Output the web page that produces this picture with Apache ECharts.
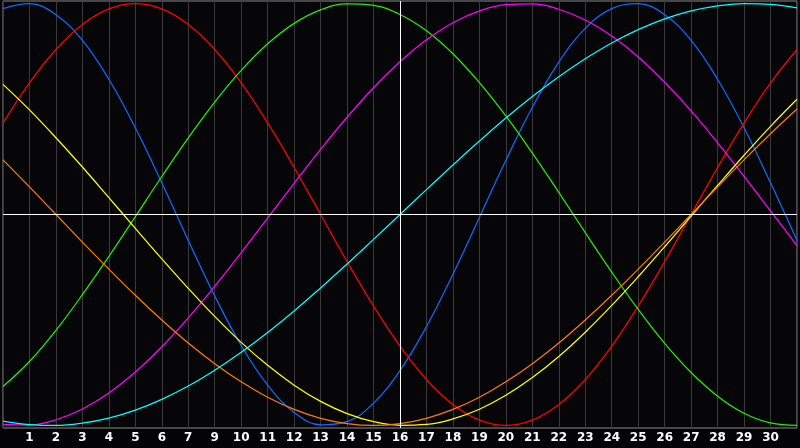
<!DOCTYPE html>
<html>
<head>
<meta charset="UTF-8">
<title></title>
<script src="https://cdn.jsdelivr.net/npm/echarts@6/dist/echarts.min.js"></script>
<style>
  html, body { margin: 0; padding: 0; background: #040406; }
</style>
</head>
<body>
<div id="chart" style="width:800px;height:448px;"></div>
<script type="text/javascript">
// day positions 0..30, labels shown at positions 1..29
var days = [];
for (var i = 0; i <= 30; i++) days.push(i);
var dayLabels = ['1','2','3','4','5','6','7','9','10','11','12','13','14','15','16',
                 '17','18','19','20','21','22','23','24','25','26','27','28','29','30'];

var blue = [0.976,0.999,0.947,0.825,0.641,0.411,0.150,-0.123,-0.386,-0.621,-0.809,-0.938,-0.997,-0.982,-0.894,-0.740,
            -0.531,-0.283,-0.014,0.257,0.508,0.722,0.882,0.976,0.999,0.947,0.825,0.641,0.411,0.150,-0.123];
var red = [0.434,0.624,0.782,0.901,0.975,1.000,0.975,0.901,0.782,0.624,0.434,0.223,0.000,-0.223,-0.434,-0.624,
           -0.782,-0.901,-0.975,-1.000,-0.975,-0.901,-0.782,-0.624,-0.434,-0.223,0.000,0.223,0.434,0.624,0.782];
var green = [-0.815,-0.697,-0.549,-0.380,-0.199,-0.010,0.180,0.363,0.533,0.683,0.809,0.906,0.970,0.998,0.991,0.948,
             0.871,0.762,0.625,0.467,0.291,0.105,-0.086,-0.273,-0.450,-0.611,-0.749,-0.861,-0.942,-0.988,-0.999];
var magenta = [-0.995,-0.998,-0.973,-0.922,-0.846,-0.747,-0.627,-0.490,-0.340,-0.181,-0.017,0.148,0.309,0.461,0.601,0.724,
               0.828,0.909,0.965,0.995,0.998,0.973,0.922,0.846,0.747,0.627,0.491,0.340,0.181,0.017,-0.148];
var yellow = [0.617,0.496,0.364,0.225,0.080,-0.066,-0.210,-0.350,-0.483,-0.606,-0.715,-0.809,-0.886,-0.944,-0.982,-0.999,
              -0.995,-0.969,-0.923,-0.857,-0.773,-0.673,-0.558,-0.431,-0.295,-0.153,-0.007,0.138,0.281,0.418,0.546];
var orange = [0.259,0.131,0.000,-0.131,-0.259,-0.383,-0.500,-0.609,-0.707,-0.793,-0.866,-0.924,-0.966,-0.991,-1.000,-0.991,
              -0.966,-0.924,-0.866,-0.793,-0.707,-0.609,-0.500,-0.383,-0.259,-0.131,0.000,0.131,0.259,0.383,0.500];
var cyan = [-0.979,-0.996,-1.000,-0.989,-0.965,-0.927,-0.876,-0.813,-0.738,-0.653,-0.559,-0.457,-0.348,-0.235,-0.118,0.000,
            0.118,0.235,0.348,0.457,0.559,0.653,0.738,0.813,0.876,0.927,0.965,0.989,1.000,0.996,0.979];

var todayPos = 15;

function pairs(vals) {
    return days.map(function (d, i) { return [d, vals[i]]; });
}

function curve(name, vals, color) {
    return {
        name: name,
        type: 'line',
        data: pairs(vals),
        smooth: 0.4,
        showSymbol: false,
        silent: true,
        lineStyle: { color: color, width: 1.25 },
        z: 3
    };
}

var chart = echarts.init(document.getElementById('chart'));
chart.setOption({
    backgroundColor: '#040406',
    animation: false,
    grid: {
        left: 1, right: 1, top: 1, bottom: 20,
        show: true,
        borderColor: '#8a8a8a',
        borderWidth: 1,
        backgroundColor: '#060609'
    },
    xAxis: {
        type: 'value',
        min: 0,
        max: 30,
        interval: 1,
        axisLine: { show: false },
        axisTick: { show: false },
        splitLine: { show: true, lineStyle: { color: '#3a3a3a', width: 1 } },
        axisLabel: {
            color: '#ffffff',
            fontFamily: 'DejaVu Sans',
            fontWeight: 'bold',
            fontSize: 12,
            margin: 4,
            formatter: function (v) {
                if (v < 1 || v > 29) return '';
                return dayLabels[v - 1];
            }
        }
    },
    yAxis: {
        type: 'value',
        min: -1.012,
        max: 1.012,
        show: false,
        splitLine: { show: false }
    },
    series: [
        {
            type: 'line',
            data: [],
            silent: true,
            markLine: {
                silent: true,
                symbol: 'none',
                label: { show: false },
                lineStyle: { color: '#ffffff', width: 1, type: 'solid' },
                data: [{ yAxis: 0 }, { xAxis: todayPos }]
            },
            z: 2
        },
        curve('Physical', blue, '#0a6cff'),
        curve('Emotional', red, '#ff0000'),
        curve('Intellectual', green, '#22ee00'),
        curve('Intuitive', magenta, '#ff00ff'),
        curve('Aesthetic', yellow, '#ffff00'),
        curve('Awareness', orange, '#ff7a00'),
        curve('Spiritual', cyan, '#00ffff')
    ]
});
</script>
</body>
</html>
